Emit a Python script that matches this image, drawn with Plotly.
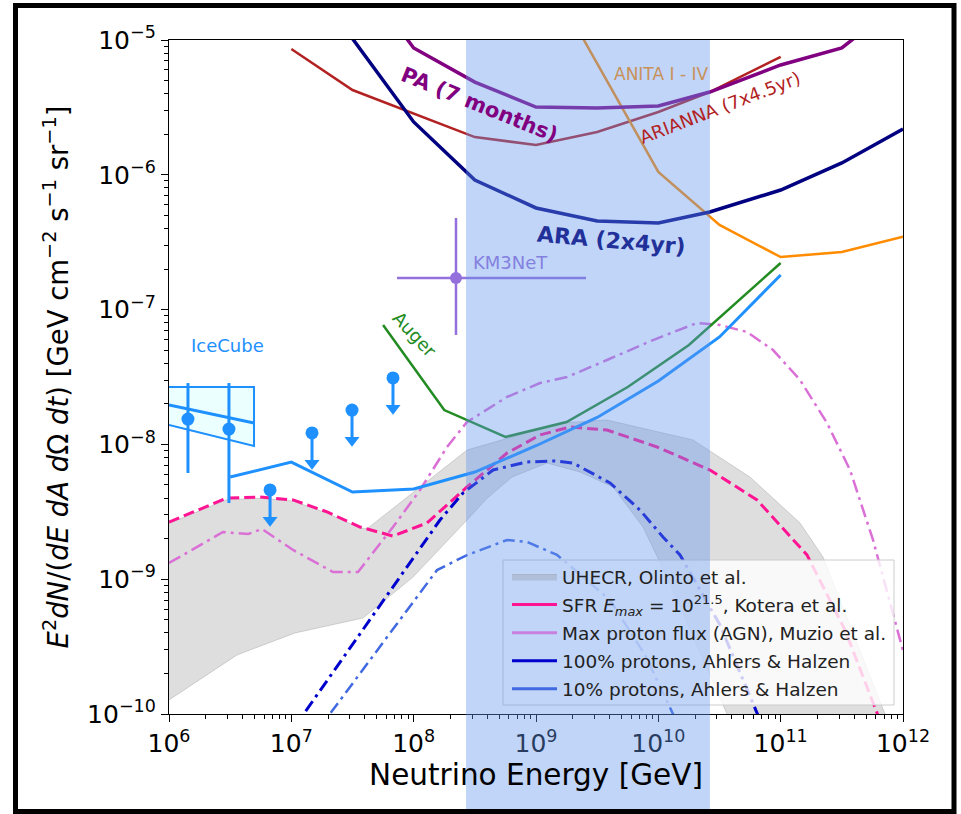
import numpy as np
import plotly.graph_objects as go

# ---------------- data: log10(E / GeV) and log10(E^2 flux) ----------------
ara_logE = [7.5, 8.0, 8.5, 9.0, 9.5, 10.0, 10.42, 11.0, 11.5, 12.0]
ara_logF = [-4.99, -5.608, -6.039, -6.246, -6.343, -6.358, -6.276, -6.113, -5.912, -5.66]

pa_logE = [7.5, 8.0, 8.5, 9.0, 9.5, 10.0, 10.42, 11.0, 11.5, 12.0]
pa_logF = [-4.45, -5.059, -5.312, -5.497, -5.504, -5.49, -5.386, -5.185, -5.059, -4.70]

arianna_logE = [7.0, 7.5, 8.5, 9.0, 9.5, 10.0, 10.42, 11.0]
arianna_logF = [-5.067, -5.371, -5.72, -5.779, -5.682, -5.534, -5.386, -5.126]

anita_logE = [9.0, 10.0, 10.5, 11.0, 11.5, 12.0]
anita_logF = [-4.37, -5.979, -6.372, -6.61, -6.573, -6.46]

auger_logE = [7.75, 8.25, 8.75, 9.25, 9.75, 10.25, 11.0]
auger_logF = [-7.114, -7.745, -7.945, -7.834, -7.574, -7.263, -6.654]

iclim_logE = [6.5, 7.0, 7.5, 8.0, 8.5, 9.0, 9.5, 10.0, 10.5, 11.0]
iclim_logF = [-8.242, -8.131, -8.353, -8.331, -8.205, -8.01, -7.80, -7.53, -7.203, -6.743]

icpts_logE = [6.155, 6.49]
icpts_logF = [-7.812, -7.886]
icpts_hi = [-7.545, -7.545]
icpts_lo = [-8.212, -8.435]

icul_logE = [6.826, 7.169, 7.496, 7.831]
icul_logF = [-8.338, -7.915, -7.745, -7.507]

icband_logE = [6.0, 6.695]
icband_up = [-7.574, -7.574]
icband_lo = [-7.856, -8.012]
icband_mid = [-7.708, -7.841]

km_logE, km_logE_lo, km_logE_hi = 8.346, 7.864, 9.409
km_logF, km_logF_lo, km_logF_hi = -6.766, -7.188, -6.32

sfr_logE = [6.0, 6.474, 6.744, 7.014, 7.292, 7.562, 7.831, 8.109, 8.436, 8.763, 9.033, 9.278,
            9.58, 9.989, 10.422, 10.807, 11.215, 11.526, 11.788, 11.85]
sfr_logF = [-8.576, -8.398, -8.39, -8.412, -8.501, -8.613, -8.68, -8.583, -8.316, -8.064, -7.93, -7.871,
            -7.893, -8.019, -8.19, -8.412, -8.82, -9.377, -9.993, -10.15]

muzio_logE = [6.0, 6.441, 6.646, 6.76, 7.014, 7.341, 7.545, 7.831, 8.052, 8.273, 8.436, 8.763, 9.033,
              9.254, 9.58, 9.957, 10.316, 10.504, 10.725, 10.938, 11.158, 11.379, 11.567, 11.755, 12.0]
muzio_logF = [-8.88, -8.65, -8.665, -8.628, -8.783, -8.947, -8.947, -8.613, -8.338, -8.019, -7.834, -7.648,
              -7.545, -7.5, -7.374, -7.226, -7.099, -7.114, -7.166, -7.3, -7.522, -7.841, -8.19, -8.709, -9.53]

p100_logE = [7.0, 8.215, 8.403, 8.649, 8.927, 9.155, 9.303, 9.605, 9.85, 10.038, 10.177, 10.504, 10.807, 10.9]
p100_logF = [-10.13, -8.561, -8.361, -8.19, -8.13, -8.123, -8.138, -8.286, -8.487, -8.687, -8.82, -9.34, -9.993, -10.2]

p10_logE = [7.2, 8.191, 8.436, 8.763, 8.927, 9.172, 9.605, 9.891, 10.12, 10.2]
p10_logF = [-10.14, -8.932, -8.821, -8.709, -8.724, -8.82, -9.154, -9.562, -10.0, -10.15]

olinto_up_logE = [6.0, 6.474, 6.744, 7.014, 7.292, 7.562, 7.62, 8.436, 9.196, 9.58, 10.283, 10.749,
                  11.158, 11.346, 11.853, 11.95]
olinto_up_logF = [-8.585, -8.41, -8.40, -8.42, -8.51, -8.62, -8.625, -8.042, -7.842, -7.819, -7.967, -8.242,
                  -8.583, -8.835, -10.0, -10.2]
olinto_lo_logE = [6.0, 6.556, 7.03, 7.586, 7.995, 8.436, 8.6, 8.804, 9.09, 9.36, 9.63, 9.875, 10.071, 10.561, 10.6]
olinto_lo_logF = [-9.896, -9.562, -9.399, -9.288, -8.984, -8.561, -8.40, -8.242, -8.138, -8.205, -8.316,
                  -8.613, -8.984, -10.0, -10.2]

band_logE = [8.428, 10.422]          # highlighted energy window
x_ticks = [6, 7, 8, 9, 10, 11, 12]
y_ticks = [-10, -9, -8, -7, -6, -5]


def P(a):
    return [10.0 ** v for v in np.atleast_1d(a)]


FONT = "DejaVu Sans"
fig = go.Figure()

# ---- UHECR band (Olinto) ----
fig.add_trace(go.Scatter(
    x=P(olinto_up_logE + olinto_lo_logE[::-1]), y=P(olinto_up_logF + olinto_lo_logF[::-1]),
    mode="lines", fill="toself", fillcolor="rgba(128,128,128,0.26)",
    line=dict(color="rgba(128,128,128,0.30)", width=1), showlegend=False, hoverinfo="skip"))

# ---- models ----
fig.add_trace(go.Scatter(x=P(sfr_logE), y=P(sfr_logF), mode="lines",
                         line=dict(color="#FF1493", width=3, dash="11px,5px"), showlegend=False))
fig.add_trace(go.Scatter(x=P(muzio_logE), y=P(muzio_logF), mode="lines",
                         line=dict(color="#DA70D6", width=2.5, dash="13px,5px,3px,5px"), showlegend=False))
fig.add_trace(go.Scatter(x=P(p100_logE), y=P(p100_logF), mode="lines",
                         line=dict(color="#0000CD", width=3, dash="12px,5px,3px,5px"), showlegend=False))
fig.add_trace(go.Scatter(x=P(p10_logE), y=P(p10_logF), mode="lines",
                         line=dict(color="#4169E1", width=2.5, dash="12px,5px,3px,5px"), showlegend=False))

# ---- legend entries ----
leg = [
    ("UHECR, Olinto et al.", None),
    ("SFR <i>E<sub>max</sub></i> = 10<sup>21.5</sup>, Kotera et al.", "#FF1493"),
    ("Max proton flux (AGN), Muzio et al.", "#C77FE0"),
    ("100% protons, Ahlers &amp; Halzen", "#0000CD"),
    ("10% protons, Ahlers &amp; Halzen", "#4169E1"),
]
for i, (name, col) in enumerate(leg):
    if col is None:
        fig.add_trace(go.Scatter(x=[None], y=[None], mode="lines", fill="toself", name=name,
                                 fillcolor="rgba(128,128,128,0.26)", line=dict(color="rgba(128,128,128,0.3)", width=1),
                                 legendgroup=f"g{i}"))
    else:
        fig.add_trace(go.Scatter(x=[None], y=[None], mode="lines", name=name,
                                 line=dict(color=col, width=3), legendgroup=f"g{i}"))

# ---- experimental limits ----
fig.add_trace(go.Scatter(x=P(arianna_logE), y=P(arianna_logF), mode="lines",
                         line=dict(color="#B22222", width=2.5), showlegend=False))
fig.add_trace(go.Scatter(x=P(anita_logE), y=P(anita_logF), mode="lines",
                         line=dict(color="#FF8C00", width=2.5), showlegend=False))
fig.add_trace(go.Scatter(x=P(pa_logE), y=P(pa_logF), mode="lines",
                         line=dict(color="#800080", width=3.5), showlegend=False))
fig.add_trace(go.Scatter(x=P(ara_logE), y=P(ara_logF), mode="lines",
                         line=dict(color="#000080", width=3.5), showlegend=False))
fig.add_trace(go.Scatter(x=P(auger_logE), y=P(auger_logF), mode="lines",
                         line=dict(color="#228B22", width=2.5), showlegend=False))

# IceCube band
fig.add_trace(go.Scatter(x=P(icband_logE + icband_logE[::-1]), y=P(icband_up + icband_lo[::-1]),
                         mode="lines", fill="toself", fillcolor="rgba(224,255,255,0.6)",
                         line=dict(color="#1E90FF", width=2), showlegend=False))
fig.add_trace(go.Scatter(x=P(icband_logE), y=P(icband_mid), mode="lines",
                         line=dict(color="#1E90FF", width=3), showlegend=False))
# IceCube limit line
fig.add_trace(go.Scatter(x=P(iclim_logE), y=P(iclim_logF), mode="lines",
                         line=dict(color="#1E90FF", width=3), showlegend=False))
# IceCube points with error bars
icy = np.array(P(icpts_logF))
fig.add_trace(go.Scatter(
    x=P(icpts_logE), y=icy, mode="markers", marker=dict(color="#1E90FF", size=13),
    error_y=dict(type="data", symmetric=False, array=np.array(P(icpts_hi)) - icy,
                 arrayminus=icy - np.array(P(icpts_lo)), color="#1E90FF", thickness=3, width=0),
    showlegend=False))
# IceCube upper limits (arrows)
ARROW = 0.26
ax_, ay_ = [], []
for e, f in zip(icul_logE, icul_logF):
    ax_ += [10 ** e, 10 ** e, None]
    ay_ += [10 ** f, 10 ** (f - ARROW + 0.03), None]
fig.add_trace(go.Scatter(x=ax_, y=ay_, mode="lines", line=dict(color="#1E90FF", width=3), showlegend=False))
fig.add_trace(go.Scatter(x=P(icul_logE), y=P(np.array(icul_logF) - ARROW + 0.035), mode="markers",
                         marker=dict(symbol="triangle-down", size=13, color="#1E90FF"), showlegend=False))
fig.add_trace(go.Scatter(x=P(icul_logE), y=P(icul_logF), mode="markers",
                         marker=dict(color="#1E90FF", size=13), showlegend=False))

# KM3NeT
kx, ky = 10 ** km_logE, 10 ** km_logF
fig.add_trace(go.Scatter(
    x=[kx], y=[ky], mode="markers", marker=dict(color="#9370DB", size=12),
    error_x=dict(type="data", symmetric=False, array=[10 ** km_logE_hi - kx], arrayminus=[kx - 10 ** km_logE_lo],
                 color="#9370DB", thickness=2.5, width=0),
    error_y=dict(type="data", symmetric=False, array=[10 ** km_logF_hi - ky], arrayminus=[ky - 10 ** km_logF_lo],
                 color="#9370DB", thickness=2.5, width=0),
    showlegend=False))

# ---- labels ----
labels = [
    ("PA (7 months)", 8.542, -5.482, 22, "#800080", 21, True),
    ("ARA (2x4yr)", 9.621, -6.484, 5, "#22309a", 22, True),
    ("ARIANNA (7x4.5yr)", 10.504, -5.504, -21, "#B22222", 18, False),
    ("ANITA I - IV", 10.022, -5.252, 0, "#c8915a", 17, False),
    ("KM3NeT", 8.788, -6.654, 0, "#8480e0", 18, False),
    ("Auger", 8.011, -7.181, 47, "#228B22", 18, False),
    ("IceCube", 6.482, -7.263, 0, "#1E90FF", 18, False),
]
for txt, lx, ly, ang, col, sz, bold in labels:
    fig.add_annotation(x=lx, y=ly, xref="x", yref="y", text=f"<b>{txt}</b>" if bold else txt,
                       showarrow=False, textangle=ang, font=dict(family=FONT, size=sz, color=col),
                       xanchor="center", yanchor="middle")

# ---- layout ----
L, R, T, B, W, H = 169, 58, 40, 100, 961, 814
pw, ph = W - L - R, H - T - B


def px(xp):
    return (xp - L) / pw


def py(yp):
    return (H - B - yp) / ph


shapes = [
    # legend box (behind band)
    dict(type="rect", xref="paper", yref="paper", x0=px(503), x1=px(894), y0=py(705), y1=py(560),
         fillcolor="rgba(255,255,255,0.8)", line=dict(color="#cccccc", width=1), layer="above"),
    # highlighted energy window
    dict(type="rect", xref="paper", yref="paper", x0=(band_logE[0] - 6) / 6, x1=(band_logE[1] - 6) / 6,
         y0=py(809), y1=1, fillcolor="rgba(100,149,237,0.4)", line=dict(width=0), layer="above"),
    # outer frame
    dict(type="rect", xref="paper", yref="paper", x0=px(15.5), x1=px(954), y0=py(811.5), y1=py(5.5),
         line=dict(color="black", width=5), fillcolor="rgba(0,0,0,0)", layer="above"),
]

minor_x = [k * 10 ** n for n in range(6, 12) for k in range(2, 10)]
minor_y = [k * 10 ** n for n in range(-10, -5) for k in range(2, 10)]

fig.update_layout(
    width=W, height=H, margin=dict(l=L, r=R, t=T, b=B, autoexpand=False),
    paper_bgcolor="white", plot_bgcolor="white",
    font=dict(family=FONT, color="black"),
    shapes=shapes,
    legend=dict(x=px(507), xanchor="left", y=py(558), yanchor="top", bgcolor="rgba(0,0,0,0)",
                borderwidth=0, font=dict(family=FONT, size=18.5, color="#222"), itemwidth=45,
                tracegroupgap=1, traceorder="grouped"),
    xaxis=dict(type="log", range=[6, 12], tickvals=[10 ** v for v in x_ticks],
               ticktext=[f"10<sup>{v}</sup>" for v in x_ticks], ticks="outside", ticklen=7, tickwidth=1.3,
               tickcolor="black", showline=True, linecolor="black", linewidth=1.3, mirror=True, showgrid=False,
               zeroline=False, tickfont=dict(family=FONT, size=25, color="black"),
               minor=dict(tickvals=minor_x, ticks="outside", ticklen=4, tickwidth=1, tickcolor="black", showgrid=False),
               title=dict(text="Neutrino Energy [GeV]", font=dict(family=FONT, size=29.5, color="black"), standoff=5)),
    yaxis=dict(type="log", range=[-10, -5], tickvals=[10 ** v for v in y_ticks],
               ticktext=[f"10<sup>\u2212{abs(v)}</sup>" for v in y_ticks], ticks="outside", ticklen=7,
               tickwidth=1.3, tickcolor="black", showline=True, linecolor="black", linewidth=1.3, mirror=True,
               showgrid=False, zeroline=False, tickfont=dict(family=FONT, size=25, color="black"),
               minor=dict(tickvals=minor_y, ticks="outside", ticklen=4, tickwidth=1, tickcolor="black", showgrid=False),
               title=dict(text="<i>E</i><sup>2</sup><i>dN</i>/(<i>dE dA d</i>\u03a9 <i>dt</i>) "
                               "[GeV cm<sup>\u22122</sup> s<sup>\u22121</sup> sr<sup>\u22121</sup>]",
                          font=dict(family=FONT, size=27.5, color="black"), standoff=10)),
)

fig.write_html("out.html", config={"displayModeBar": False},
               post_script="document.body.style.margin='0';document.body.style.padding='0';")
